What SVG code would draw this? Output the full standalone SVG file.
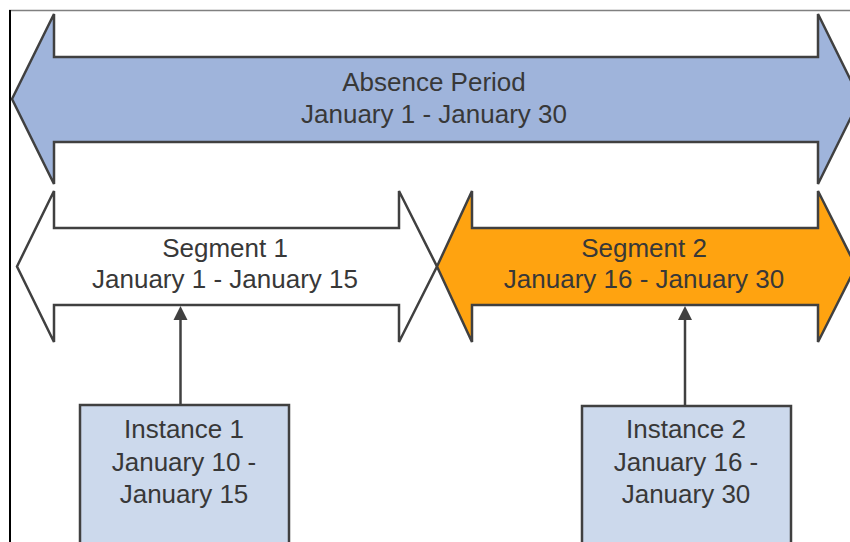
<svg xmlns="http://www.w3.org/2000/svg" width="850" height="542" viewBox="0 0 850 542">
  <style>
    .shape { stroke: #404040; stroke-width: 2.5; stroke-linejoin: miter; }
    .lbl { font-family: "Liberation Sans", Arial, sans-serif; font-size: 26px; fill: #383838; text-anchor: middle; }
    .conn { stroke: #404040; stroke-width: 2.5; fill: none; }
    .head { fill: #404040; }
  </style>
  <rect x="0" y="0" width="850" height="542" fill="#ffffff"/>
  <g id="frame">
    <line x1="9" y1="10.5" x2="850" y2="10.5" stroke="#808080" stroke-width="1.5"/>
    <line x1="10" y1="10" x2="10" y2="542" stroke="#000000" stroke-width="2"/>
  </g>
  <g id="absence-period">
    <polygon class="shape" fill="#9fb4db" points="12,99 54,14 54,57 818,57 818,14 860,99 818,184 818,142 54,142 54,184"/>
    <text class="lbl" x="434" y="91">Absence Period</text>
    <text class="lbl" x="434" y="123">January 1 - January 30</text>
  </g>
  <g id="segment-1">
    <polygon class="shape" fill="#ffffff" points="17,266.5 54,191 54,228 399,228 399,191 437,266.5 399,342 399,305 54,305 54,342"/>
    <text class="lbl" x="225" y="257">Segment 1</text>
    <text class="lbl" x="225" y="288">January 1 - January 15</text>
  </g>
  <g id="segment-2">
    <polygon class="shape" fill="#ffa310" points="437,266.5 472,191 472,228 818,228 818,191 856,266.5 818,342 818,305 472,305 472,342"/>
    <text class="lbl" x="644" y="257" fill="#2e2a20">Segment 2</text>
    <text class="lbl" x="644" y="288" fill="#2e2a20">January 16 - January 30</text>
  </g>
  <g id="instance-1">
    <rect class="shape" fill="#ccd9ec" x="80" y="405" width="209" height="160"/>
    <text class="lbl" x="184" y="438">Instance 1</text>
    <text class="lbl" x="184" y="471">January 10 -</text>
    <text class="lbl" x="184" y="503">January 15</text>
  </g>
  <g id="instance-2">
    <rect class="shape" fill="#ccd9ec" x="582" y="406" width="209" height="160"/>
    <text class="lbl" x="686" y="438">Instance 2</text>
    <text class="lbl" x="686" y="471">January 16 -</text>
    <text class="lbl" x="686" y="503">January 30</text>
  </g>
  <g id="connectors">
    <line class="conn" x1="180.5" y1="405" x2="180.5" y2="318"/>
    <polygon class="head" points="180.5,306 173.5,320 187.5,320"/>
    <line class="conn" x1="685" y1="406" x2="685" y2="318"/>
    <polygon class="head" points="685,306 678,320 692,320"/>
  </g>
</svg>
